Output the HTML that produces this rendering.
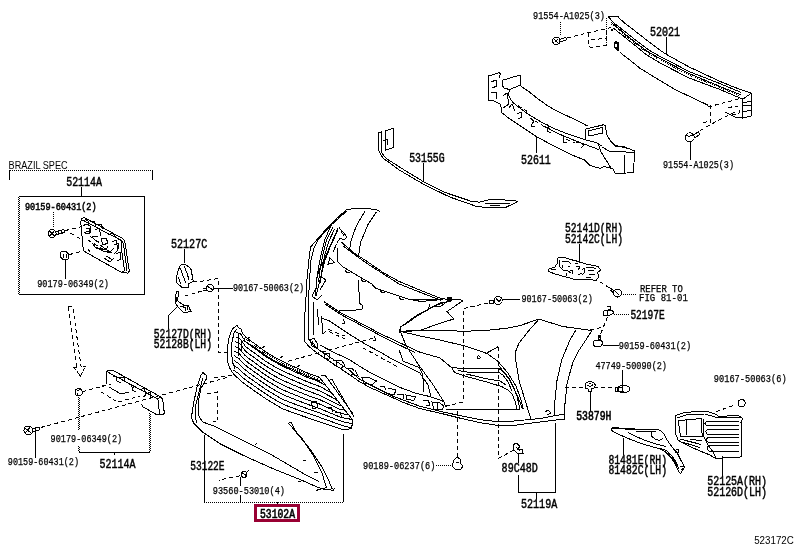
<!DOCTYPE html>
<html><head><meta charset="utf-8">
<style>
html,body{margin:0;padding:0;background:#fff;width:796px;height:549px;overflow:hidden}
svg{display:block;will-change:transform}
.t{font-family:"Liberation Mono",monospace;font-size:10.6px;fill:#000;stroke:#000;stroke-width:0.25}
.m{font-family:"Liberation Mono",monospace;font-size:12px;fill:#000;stroke:#000;stroke-width:0.45}
.b{stroke-width:0.65;font-size:13px}
.tb{stroke-width:0.55}
.s{font-family:"Liberation Sans",sans-serif;font-size:10px;fill:#000}
.l{fill:none;stroke:#000;stroke-width:1}
.d{fill:none;stroke:#000;stroke-width:1;stroke-dasharray:4 3}
.o{fill:none;stroke:#000;stroke-width:1;stroke-dasharray:1 1}
</style></head><body>
<svg width="796" height="549" viewBox="0 0 796 549">
<g shape-rendering="crispEdges">
<!-- 52611 absorber -->
<path class="l" d="M499.7,78.1 L500.2,73.7 L499.1,72.7 L488.7,75.9 L488.2,100 L493.1,100.5 L500.8,104.3 L501.4,112.3 L508.2,117.8 L520.5,126 L536.9,136.9 L554.6,146.4 L571,154.6 L584.7,160.1 L590.2,165.6 L600,168.3 L603.8,166.5 L612.7,168.7 L615.3,173.8 L633.7,172.5 L634.4,150.8 L622.9,146.4 L616.5,147 L610.2,140.6 L606.3,134.2 L605.7,126 L603.8,124.7 L585.9,129.1 L585.9,139.3"/>
<path class="l" d="M502.4,80.3 L518.8,75.4 L520.4,75.9 L520.4,85.2 L511.7,88.5 L509.5,89.6 L508.4,94.5"/>
<path class="l" d="M502.4,80.3 L502,85 L504,88 L509.5,89.6"/>
<path class="l" d="M520.4,85.8 L529.1,91.8 L538.2,99 L547.3,105.5 L556.4,110.8 L568.3,116.4 L580,122 L587.4,126"/>
<path class="l" d="M508.4,94.5 L510.9,100 L516,105 L527.3,113.7 L541,121.9 L554.6,128.7 L568.3,134.2 L584.7,139.6 L596,142.5 L602,146"/>
<path class="l" d="M588,131 L602,127.5 L603,133 L589,136 Z"/>
<path class="l" d="M598,143 L601,152 L606,160 L611,168"/>
<path class="l" d="M602,147 L609,151 L634.4,152.5"/>
<path class="l" d="M624.8,154.6 L624.8,172.5 M614,145 L630,149"/>
<path class="l" d="M543.7,126 L560,134.5 L576,141 L598.7,149.5"/>
<path class="l" d="M491,82 L496,80 L497,86 L492,88 M491,93 L496,92 L497,99 M503,96 L507,93 L509,104 L503,108"/>
<path class="l" d="M509,108 L512,104 L515,111 M517,114 L521,112 L522,117 L518,119 M530,118 L534,121 L531,126 L535,127 M546,124 L549,126 L547,131 L551,133 M560,134 L564,136 L563,142 L567,143 M576,142 L580,142 L584,145 L581,148"/>
<path class="d" d="M512,102 L528,112 M535,121 L545,127 M566,139 L575,143"/>
<path class="l" d="M536.4,137 L536.4,153.3"/>
<!-- 52021 bar -->
<path class="l" d="M608.6,17 L609,16.1 L617.6,16.1 L619.3,18.2 L624.6,23.1 L634.4,30.5 L645.9,39.5 L660,50.2 L666.2,54.3 L689.2,67 L720,81.4 L735,87.5 L751.2,93.2 L751.2,116 L742.9,118 L742.9,99.2 L751.2,93.2"/>
<path class="l" d="M608.6,17 L613.1,22.3 L624.6,31.3 L636.9,41.1 L649.2,50.2 L657.4,55 L672.8,63 L689,71.5 L720,83.6 L741.4,92.5"/>
<path class="l" d="M610.7,22.3 L616.4,26.4 L624.6,33.8 L636.9,43.6 L649.2,52.6 L660,58.5 L689,73.5 L720,86.5 L741.4,95"/>
<path class="o" d="M611.5,24 L617,28 L625,35.5 L637,45 L649.5,54 L660,60 L689,75 L720,87.5 L741.4,96.5"/>
<path class="l" d="M612.7,27.6 L624.6,37 L636.9,46.9 L645.9,54.3 L660,63 L689,78 L720,89.5 L742.9,99.2"/>
<path class="l" d="M619.7,51.8 L623,55 L629.4,59.7 L640,68.3 L660,80.5 L675,89.5 L708,105.2"/>
<path class="l" d="M725,112 L735,117 L742.9,118"/>
<path class="l" d="M742.9,103 L751.2,101 M742.9,105 L751.2,105 M742.9,112 L751.2,110"/>
<path class="o" d="M606.1,18 L606.1,43"/>
<path d="M613.6,42.4 L615.9,40.9 L618.9,42.4 L619.4,50.5 L617.4,51 L614.4,47.7 L613.6,45.4 Z" fill="#000"/>
<path d="M615,44 L617,43.5 L617,47 L615.5,46.5 Z" fill="#fff"/>
<rect x="611" y="28.5" width="2" height="2" fill="#000"/>
<!-- top bolt 91554 -->
<circle class="l" cx="556.3" cy="40.9" r="3.6"/>
<path class="l" d="M554,39 L558,43 M555,42 L558,39 M559.5,39.5 L566,37.5 M559.5,42 L566,40 L566,37.5"/>
<path class="o" d="M560.8,22 L560.8,35.5"/>
<path class="d" d="M567,38 L588.7,32.6 L611.3,27.5"/>
<path class="d" d="M588.7,32.6 L588.7,46 L591,47.5 L606.8,45.5 M606.8,30 L606.8,45.5 M591,40 L606.8,38"/>
<!-- right bolt 91554 -->
<circle class="l" cx="689.7" cy="137.3" r="4.5"/>
<path class="l" d="M685.5,135 Q690,138 694,134 M694,135 L698.5,131.5 M695,138 L699.5,134.5 L698.5,131.5"/>
<path class="l" d="M690.3,142 L690.3,160"/>
<path class="d" d="M700,130.5 L717,121 L735,112"/>
<path class="d" d="M710.4,105.2 L710.4,124 M703,122.7 L710,121 M708,107 L742,98"/>
<path class="d" d="M728,108 L735,106 Q742,107 739,113 L732,115"/>
<path class="l" d="M666.2,36.6 L666.2,55"/>
<!-- Brazil box -->
<path class="o" d="M9.5,170.5 L152.5,170.5"/>
<path class="l" d="M9.5,170 L9.5,180 M152.5,170 L152.5,180"/>
<path class="l" d="M81.5,186.5 L81.5,196.5 M19,196.5 L144.5,196.5 L144.5,294.5 L19,294.5"/>
<path class="o" d="M18.5,197 L18.5,294"/><path class="o" d="M19.5,198 L19.5,294"/>
<!-- bracket -->
<path class="l" d="M81.5,218.3 L84.6,217.7 L122.9,238.7 L124.8,241.3 L129.3,271.2 L128,273.1 L121.6,272.5 L83.4,250.8 L80.8,222.8 Z"/>
<path class="l" d="M81.5,219.6 L121.6,240.6 L123.5,244 L127,271"/>
<path class="l" d="M121.6,240.6 L121,246 L124.5,270.5 L121.6,272.5"/>
<path class="l" d="M83,226 L86,224 L90,226 L90,232 L86,231 M95,230 L99,228 L101,236 M92,237 L98,236 M92,243 L96,248 L106,250 L108,246 M100,245 L110,252 L114,248 M112,242 L116,240 L118,250 L114,254 M108,235 L113,233 L116,237 M104,258 L110,262 L114,258 M93,238 L97,242"/>
<path class="d" d="M84,232 L100,243 M88,240 L112,255"/>
<path class="l" d="M83,221 L86,219.5 L89,222 L88,226 M90,222 L94,221 L96,226 M98,225 L101,224 L103,229 M86,229 L89,228 L90,233 L87,234 M101,239 L106,238 L108,243 L103,245 Z M96,247 L103,251 L112,253 M114,245 L118,243 L119,249 M116,254 L120,252 L121,259 L117,261 M106,256 L113,260 M88,249 L90,252"/>
<!-- bolt -->
<circle class="l" cx="52.1" cy="233.6" r="4"/>
<path class="l" d="M49.5,231 L54.5,236 M49.5,236 L54,231.5 M56,231.5 L64.2,229.5 M56,235 L64.2,232.5 L64.2,229.5 M58,231 L58,234 M61,230 L61,233.5"/>
<path class="o" d="M53.7,212 L53.7,228"/>
<path class="d" d="M65.5,230.5 L82,226.6 M70.6,233 L83.4,240.6"/>
<!-- nut -->
<path class="l" d="M61,252 L66,251.5 L68.7,254 L68.5,259 L63,259.7 L60.4,257 Z M63,254 L63,258 M66,253.5 L66,258"/>
<path class="l" d="M65.5,259.7 L65.5,279"/>
<path class="d" d="M69.3,254.6 L83.4,250.8"/>
<!-- bumper cover 52119A -->
<path class="l" d="M346.7,209.5 Q362,207 378.8,210.2 L379.5,212.4"/>
<path class="l" d="M346.7,209.5 L331.4,223.3 L318,238.5 L311,246.6 L309.6,252.5 L308,269.2 L306.6,283.7 L305.8,301.2 L304.4,320 L304.4,341 L308.8,346.4 L316.4,352.5 L327.4,360 L338.3,367 L349.2,374.5 L360,382 L370,387.5 L381.9,392.8 L403.7,402.6 L420,408.6 L440.2,413.2 L460.3,418.2 L480,422.7 L498.5,425.5 L514.3,425.3 L540,422 L564.3,419"/>
<path class="l" d="M346.7,211 L331.4,224.8 L318.3,239.4 L314,248 L311,260 L309.5,280 L308.5,300 L308.5,320 L308.5,339 L313,345 L319,350 L332.8,359 L349.2,370 L360,379.5 L370,384.7 L392.8,396.1 L420,406.3 L444.2,412.2 L460.3,415.7 L480,419.7 L496.7,421.5 L514.3,421 L540,418.5 L564.3,414"/>
<path class="l" d="M365,211 L356.2,226.2 L351,240.8 L349.7,248.8"/>
<path class="l" d="M376.6,211.7 L367.9,224.8 L360.6,242.3 L358.4,256.9"/>
<!-- left fins -->
<path class="l" d="M331.4,224.8 L324.8,239.6 L320.7,256 L318.3,269.1 L316.5,280 L315.5,296"/>
<path class="l" d="M332.8,227 L326.5,240.5 L322.5,256 L320,270 L318.5,282"/>
<path class="l" d="M334.5,229 L328.5,242 L324.5,256 L322,270 L320.5,283"/>
<path class="l" d="M338,229.8 L329.8,247.8 L324.8,260.9 L321.6,274 L318.3,287.1 L316,296"/>
<path class="l" d="M329.8,257.6 L334.7,262.5 L328.1,264.2 Z"/>
<path class="l" d="M339,227.7 L344,233 L347,237 L344,240 L340,238 L337,243 M341,231 L344,236"/>
<path class="l" d="M336.4,244.4 L333,252 M321.6,277.3 L326,280 L320,290 M317,287 L312,296 L317,300 L322,295"/>
<!-- upper bar -->
<path class="l" d="M341.6,242.3 L353.3,252.5 L367.9,262 L383,272.5 L399.2,281.5 L428.3,293.5 L441.4,298.6 L449,299.4"/>
<path class="l" d="M343,245.8 L355,255 L370,265.5 L385,275 L399.2,284 L428.3,295.5 L441,300.2"/>
<path class="l" d="M337.3,248.1 L337.3,261.2 L343.1,267 L357.7,275.8 L371.5,283.7 L375.8,288.4 L391.9,293.5 L406.4,298.6 L421,301.5 L442.9,299.4"/>
<path class="l" d="M345,270 L347,273 L350,272 M361,279 L363,282 L366,281 M380,290 L382,293 L385,292 M399,297 L401,300 L404,299"/>
<path class="l" d="M338,228.4 L331,244 L323,262 L319,270.7 L317,278"/>
<path class="l" d="M409.4,299.4 L442.9,299.4"/>
<path class="l" d="M358.5,280 L359.5,303 L362.3,305.5 L362,309.3 L357.2,309.3 L356,310 L339.3,310.6"/>
<circle cx="449.4" cy="299.4" r="2.8" fill="#000"/>
<path class="l" d="M449,299.4 L463.3,300.1"/>
<!-- V shape -->
<path class="l" d="M463.3,300.5 L447,311.5 L453.8,319 L440,323.3 L421,330 L400.6,331.4"/>
<path class="l" d="M441.4,302.3 L416.6,315.4 L400.6,327 L399.2,333"/>
<path class="l" d="M429.8,303.7 L428.3,309.6 L418.1,315.4 L403.5,325.6"/>
<path class="l" d="M434,306 L441,302.5 L446.5,302 L440.5,306.5 Z M436,305.5 L443,303"/>
<path class="l" d="M400.6,331.4 L440,330 L461.9,331.3 L483.7,330.6 L505.6,328.4 L520.2,325.5 L539.1,319 L562,326.4 L592,330.5"/>
<path class="l" d="M399.8,330 L406.4,346.4 L419.5,366.1 L432.6,384.1 L444.1,402.1 L445.7,407"/>
<path class="l" d="M400.6,331.4 L420,336 L440,340 L465,346 L486.4,353.1 L497.9,361.3 L507.7,372.8 L515.9,385.9 L520.8,399 L523.3,408.9"/>
<path class="l" d="M497.9,364.6 L509.3,379.3 L517.5,395.7 L522.5,408.9"/>
<path class="l" d="M539.1,319 L527.5,332.1 L518.7,343.7 L515.8,351 L515.1,356.4 L519.2,381 L525.7,402.3 L530.7,418.7"/>
<path class="l" d="M575.7,330.5 L570,340 L561.8,359.7 L556.9,381 L554.4,405.6 L554.4,415.4"/>
<path class="l" d="M592,330.5 L584,342.8 L577.8,352.1 L573,362 L567.1,382.9 L564.7,406.6 L564.7,419.5"/>
<!-- fog slot -->
<path class="l" d="M452.3,367.6 L466.3,368.9 L499.5,368.9 L504,372 L509.7,379 L514,388 L517.3,397 L519.9,409.7"/>
<path class="l" d="M452.3,367.6 L452.3,368.9 L454.8,372.7 L466.3,376.5 L485,381.5 L502,386.7 L508,390 L512.2,394.4 L515,401 L517.3,409.7"/>
<path class="l" d="M458,370.5 L467,372 L498,372 L503,375 L508,382 L512,391"/>
<path class="l" d="M466.3,374 L485,378.5 L500,381 L506,385"/>
<path class="l" d="M445.9,409.7 L519.9,409.7"/>
<path class="l" d="M485.2,353.9 L498.3,346.6"/>
<circle class="l" cx="478.6" cy="357.4" r="1.5"/>
<path class="l" d="M545,412 L548,410 L551,413 L547,415"/>
<!-- middle band -->
<path class="l" d="M324,301.7 L339.3,311.9 L361,323.4 L380.2,333.6 L399.3,342.5 L419.5,352 L440,358 L452,368"/>
<path class="l" d="M325.3,304.2 L340.6,314.4 L361,325.3 L381.4,336.1 L399.3,345 L415,352.5"/>
<path class="l" d="M321.5,318.3 L329.1,320.8 L348.3,333.6 L365,344 L380,352 L390,357.9 L406.4,366.1 L419.5,372.6 L428,385 L431,397"/>
<path class="l" d="M399,349.7 L403.1,361.1 L419.5,367.7 L422.8,374.3 L423.6,392.3"/>
<path class="l" d="M320,345 L333.9,352.4 L349.2,359.5 L360,366.5 L370,372.5 L381.9,378.6 L398.3,386.8 L415,393 L430,396.6 L444.2,401.6"/>
<path class="l" d="M321.5,315.7 L322.8,333.6 M317.7,309.3 L318.3,324.6 M313,300 L313.5,335"/>
<path class="l" d="M343.2,319 L345,323 L342,324 M373.8,336 L376,340 L373,341"/>
<!-- bottom slots -->
<path class="l" d="M310,340 L314,338 L318,345 L317,348 L312,346 Z M312,341 L315,346"/>
<path class="l" d="M324,354 L329.5,353.5 L329,359.5 L324.5,358 Z M332.8,360.6 L342,361 L344.9,365 L341,368.3 L334,365 M336,361 L336,366 M347,368.3 L352,368 L354,371 M355,370 L358,376 L351,374 M362,377.5 L370,378 L376.4,381 L372,385 L364,383 Z M379.7,386.8 L384,386 L386,390 M388,388 L396,390 L394,395 L386,393 M397,394 L404,395 L403,399 M406,395 L415.7,397 L414,400.4 L407,399.5 Z M423,401 L428,400 L430,405 L426,406 M432,402 L440,403 L444,406 L442,410 L434,409 Z M437,402 L437,409"/>
<!-- dashed -->
<path class="d" d="M322.8,333.6 L329.1,329.7 L348.3,337.4 M362.7,347.7 L400,368.1 M329.2,331.7 L348.1,340.4"/>
<path class="d" d="M488.1,302.9 L463.3,308.7 L463.3,402.1 L445.7,406.2"/>
<path class="d" d="M498.3,346.6 L498.3,430"/>
<path class="d" d="M457.6,411 L457.6,458.4"/>
<path class="d" d="M498.5,430 L498.5,458.4 L516.5,448.6"/>
<path class="d" d="M564.7,387.7 L585,387.7 M594,387.7 L614.5,387.7"/>
<!-- 52127C clip -->
<path class="l" d="M184.3,248.5 L184.3,263"/>
<path class="l" d="M182,264 L180,266 L178,271 L176.5,277 L177,283 L182,287.5 L189,287.5 L188.5,284 L194,281 L192,279.5 L193,276 L191.5,274 L192,270.5 L189,267 L186,265 Z"/>
<path class="l" d="M180.5,268 L183,276 L186,283 M184,266 L187,273 L189,280 M178,277 L181,284"/>
<path class="d" d="M193,282 L200,281.5 L218,278.5 L218,352 L228,352"/>
<!-- screw 90167 -->
<circle class="l" cx="210" cy="288" r="3.5"/>
<path class="l" d="M207,286 L213,290 M213.5,288 L233,288 M203,289 L206.5,288.5 M203,291 L206.5,290"/>
<path class="d" d="M202,291 L185,296"/>
<!-- 52127D clip -->
<path class="l" d="M176.8,291.7 L178.5,291.5 L179,295 L177.5,298 L178,301 L182.8,304.7 L188.7,305.9 L190.4,310.6 L188,312 L183.9,313 L178,307 L175.5,303 L175.3,296 Z"/>
<path class="l" d="M177,297 L176.5,302 M180,306 L186,308 L185,311 M183,304 L183,308 M187,306 L187,310 M190,311 L192,311"/>
<path class="l" d="M176.7,307 L168,316.4 L168,329.4"/>
<!-- fog cover 81481E -->
<path class="l" d="M611.6,428.7 L657.5,429.3 L660.7,430.9 L664,434.2 L666.2,438.6 L670.6,445.1 L675,450.6 L677.1,452.8 L681.5,461.5 L684.8,467 L680.4,473.6 L679.3,472.5 L675,463.7 L670.6,457.2 L666.2,452.8 L661.8,449.5 L654.2,447.3 L641.1,443.5 L626.9,438 L615.9,433.1 L611.6,430.4 Z"/>
<path class="l" d="M611.5,427.5 L619,427.5"/>
<path class="l" d="M624.7,429.8 L656.4,429.8 M635.6,431.5 L656.4,431.5"/>
<path class="l" d="M628,432.6 L633.4,435.3 L643.3,439.7 L656.4,444 L662.9,445.7 L666,447"/>
<path class="l" d="M652,432 Q651,437 653.1,437.5 Q656,440.5 659.6,440.2 L662.9,438.6"/>
<circle class="l" cx="677.1" cy="451.3" r="1.8"/>
<path class="l" d="M660,448 L667,451 L672,456 L676,462 L679,469 M662,450 L668,453.5 L673,459 L677,466 M680.5,467 L684,466 M681,470 L684.5,467.5"/>
<path class="l" d="M623.5,437.5 L623.5,455"/>
<!-- bracket 52125A -->
<path class="l" d="M675.7,415.4 L685.6,412.3 L706.3,411.2 L715.6,414.3 L718.8,416.4 L738.5,415.4 L742.6,418.5 L741,422.6 L741.6,456.9 L715.6,458.4 L709.4,454.8 L699,450.6 L685.6,444.4 L678.3,440.3 L675.7,434 Z"/>
<path class="l" d="M678.3,420.6 L701.1,418.5 L702.2,436.1 L680.4,436.1 Z M686.6,419.5 L686.6,435 M703,419 L704,437 L708,445 L713,452 L716,458"/>
<path class="l" d="M677,418 L688,414.5 L705,414 L715,417 L740,418"/>
<path class="l" d="M739,421.5 L706.5,421.5 Q703.5,423.5 706.5,425.5 L739,425.5 M739,429.5 L707.3,429.5 Q704.3,431.8 707.3,434.0 L739,434.0 M739,437.5 L708.1,437.5 Q705.1,439.8 708.1,442.0 L739,442.0 M739,445.5 L708.9,445.5 Q705.9,448.2 708.9,451.0 L739,451.0 "/>
<path class="l" d="M680.4,439.2 L701,444.4 M682,442 L700,447.5 M690,439 L702,441"/>
<path class="l" d="M722.2,456.1 L722.2,477"/>
<!-- screw 90167-50063(6) -->
<circle class="l" cx="741.6" cy="403.2" r="3.6"/>
<path class="l" d="M739,421.5 L706.5,421.5 Q703.5,423.5 706.5,425.5 L739,425.5 M739,429.5 L707.3,429.5 Q704.3,431.8 707.3,434.0 L739,434.0 M739,437.5 L708.1,437.5 Q705.1,439.8 708.1,442.0 L739,442.0 M739,445.5 L708.9,445.5 Q705.9,448.2 708.9,451.0 L739,451.0 "/>
<path class="d" d="M733,405.6 L715.7,411.8"/>
<!-- clip 89C48D -->
<path class="l" d="M513,445 L516,443 L520,446 L518,449 L522,449 L523,453 L517,453 L514,450 Z M516,447 L520,451"/>
<path class="l" d="M518,453.5 L518,463.3 M518,474.8 L518,492.7 L555.7,492.7 L555.7,422.5 M536,492.7 L536,499.3"/>
<!-- clip 90189 -->
<path class="l" d="M454,460 L457,457 L460,459 L461,464 L463,466 L461,469 L455,469 L452,466 Z M456,462 L459,462"/>
<path class="o" d="M436.4,465.6 L452.7,465.6"/>
<!-- grille 53102A -->
<path class="l" d="M235.7,331.9 L240.7,334.1 L245.7,341.8 L250.7,345.6 L255.7,349.2 L260.7,352.9 L265.7,356.6 L270.7,359.6 L275.7,362.5 L280.7,365.1 L285.7,367.6 L290.7,369.9 L295.7,372.2 L300.7,374.4 L305.7,376.7 L310.7,378.6 L315.7,380.4 L320.7,382.5 L325.7,385.4 L328.3,388.4 M235.4,336.8 L240.4,339.1 L245.4,346.3 L250.4,350.1 L255.4,353.7 L260.4,357.4 L265.4,361.1 L270.4,364.1 L275.4,367.1 L280.4,369.7 L285.4,372.2 L290.4,374.4 L295.4,376.6 L300.4,378.8 L305.4,381.0 L310.4,383.0 L315.4,384.8 L320.4,386.7 L325.4,389.5 L330.4,392.3 L333.5,395.1 M235.1,341.6 L240.1,344.1 L245.1,350.8 L250.1,354.7 L255.1,358.2 L260.1,361.9 L265.1,365.5 L270.1,368.6 L275.1,371.6 L280.1,374.3 L285.1,376.7 L290.1,379.0 L295.1,381.1 L300.1,383.3 L305.1,385.4 L310.1,387.3 L315.1,389.1 L320.1,391.0 L325.1,393.7 L330.1,396.3 L335.1,399.0 L338.5,401.6 M234.8,346.4 L239.8,349.1 L244.8,355.2 L249.8,359.2 L254.8,362.7 L259.8,366.4 L264.8,370.0 L269.8,373.1 L274.8,376.1 L279.8,378.9 L284.8,381.3 L289.8,383.5 L294.8,385.6 L299.8,387.7 L304.8,389.8 L309.8,391.7 L314.8,393.5 L319.8,395.3 L324.8,397.8 L329.8,400.3 L334.8,402.8 L339.8,405.3 L342.0,406.1 M234.5,351.1 L239.5,354.0 L244.5,359.7 L249.5,363.7 L254.5,367.2 L259.5,370.8 L264.5,374.4 L269.5,377.6 L274.5,380.6 L279.5,383.4 L284.5,385.9 L289.5,388.0 L294.5,390.1 L299.5,392.1 L304.5,394.2 L309.5,396.1 L314.5,397.8 L319.5,399.6 L324.5,401.9 L329.5,404.3 L334.5,406.7 L339.5,409.1 L344.5,410.1 L345.5,410.7 M234.2,355.7 L239.2,358.9 L244.2,364.3 L249.2,368.2 L254.2,371.7 L259.2,375.3 L264.2,378.9 L269.2,382.1 L274.2,385.1 L279.2,388.0 L284.2,390.5 L289.2,392.6 L294.2,394.6 L299.2,396.6 L304.2,398.6 L309.2,400.4 L314.2,402.2 L319.2,403.9 L324.2,406.1 L329.2,408.3 L334.2,410.6 L339.2,412.8 L344.2,414.0 L348.7,414.8 M233.9,360.4 L238.9,363.8 L243.9,368.8 L248.9,372.7 L253.9,376.3 L258.9,379.8 L263.9,383.4 L268.9,386.6 L273.9,389.6 L278.9,392.5 L283.9,395.1 L288.9,397.1 L293.9,399.1 L298.9,401.0 L303.9,402.9 L308.9,404.8 L313.9,406.5 L318.9,408.2 L323.9,410.3 L328.9,412.4 L333.9,414.5 L338.9,416.6 L343.9,418.0 L348.9,418.8 L351.5,419.7 M233.6,365.2 L238.6,368.6 L243.6,373.4 L248.6,377.3 L253.6,380.8 L258.6,384.3 L263.6,387.9 L268.6,391.1 L273.6,394.1 L278.6,397.1 L283.6,399.7 L288.6,401.7 L293.6,403.7 L298.6,405.5 L303.6,407.3 L308.6,409.2 L313.6,410.9 L318.6,412.6 L323.6,414.5 L328.6,416.4 L333.6,418.4 L338.6,420.3 L343.6,421.9 L348.6,422.9 L351.5,423.9 M233.3,369.9 L238.3,373.4 L243.3,378.0 L248.3,381.8 L253.3,385.3 L258.3,388.8 L263.3,392.3 L268.3,395.6 L273.3,398.6 L278.3,401.6 L283.3,404.3 L288.3,406.3 L293.3,408.2 L298.3,410.0 L303.3,411.8 L308.3,413.5 L313.3,415.2 L318.3,416.9 L323.3,418.7 L328.3,420.5 L333.3,422.3 L338.3,424.1 L343.3,425.8 L348.3,427.0 L351.5,428.1"/>
<path class="l" d="M234.6,326.6 L231.7,330.2 L228.7,339 L227.3,349.2 L227.5,361.6 L229.7,368.1 L234,374.7 L243.9,383.4 L254.8,391.1 L265.7,398.7 L276.6,405.3 L282,408.6 L293.8,413 L309.2,418.3 L331,425.6 L344.1,430 L351.4,428.5 L352.9,421.2 L351.4,418.3"/>
<path class="l" d="M234.6,326.6 L237,325.5 L239,328 L241,329.1 L242.5,333.1 L245.4,336.8 L249,339.7 L254.2,343.3 L260,347.7 L265.8,352 L275,357.5 L286.1,363.1 L307.2,372.9 L319.4,377.3 L351.4,418.3"/>
<path class="l" d="M243.2,340.4 L254.2,347 L265.8,355.5 L275,361 L286.1,366.5 L307.2,376 L320,381"/>
<path class="o" d="M242.5,337 L254.2,345 L265.8,353.8 L275,359.3 L286.1,364.8 L307.2,374.5 L319.5,379.3"/>
<path class="l" d="M237,329 L234,333 L232,342 L231.5,352 L232.5,362 L235,369 M239,334 L238,343 L238,356 M241,340 L241,352"/>
<path class="l" d="M321,376 L325,375 L353,414 M328.1,380.4 L332,379.5 L354,417"/>
<path class="l" d="M311,403 L316,401 L318,407 L313,409 Z M326,408 L331,407 L333,412 M335,413 L340,412 L342,418"/>
<path class="l" d="M247,339 L250,337 M262,348 L265,346 M280,358 L283,356 M297,367 L300,365"/>
<!-- arrow -->
<path class="d" d="M68,306.6 L73,306.6 L73,309 L81.1,366.4 M68,307.4 L76.7,367.2" stroke-dasharray="4 1.5"/>
<path class="l" d="M76.7,367.2 L73.8,367.2 L80.3,376.2 L85.2,366.4 L81.1,366.4" stroke-dasharray="3 1"/>
<!-- lower 52114A bracket -->
<path class="l" d="M106.1,384 L106.1,371.2 L109.2,370.2 L112.8,370.2 L161.2,397.2 L162.8,399.8 L164.3,413 L163.3,414.6 L156.6,414.6 L142.9,406.9 L141.3,403.8"/>
<path class="l" d="M107.1,371.7 L157.1,398.7 L158.7,400.8 L159.2,414 M157.1,398.7 L161.2,397.2"/>
<path class="l" d="M109.2,387 L113.3,389.6 L120.4,393.6 L128.6,392.6"/>
<path class="l" d="M113,377 L116,376 L117,381 L121,383 M119,378 L124,377 L125,382 M129,384 L134,386 L132,390 L136,392 M140,390 L144,388 L146,395 L143,397 M147,394 L150,392 L151,398 M131,385 L133,389"/>
<path class="d" d="M102,386 L111,384 M101,392 L116,401 M118,402 L140,396"/>
<circle class="l" cx="78.6" cy="392.3" r="3.6"/>
<path class="l" d="M76,389 L78,391 L81,388 M77,393 L77,396"/>
<path class="d" d="M82,391.7 L107,385.1"/>
<path class="o" d="M78.1,397 L78.1,430 M78.1,446 L78.1,452 M149.1,412.5 L149.1,452"/><path class="o" d="M79.1,398 L79.1,430 M79.1,447 L79.1,452 M150.1,413.5 L150.1,452"/>
<path class="l" d="M78.6,452.4 L149.6,452.4 M113.6,452.4 L115,455"/>
<path class="d" d="M40.7,427.5 L228,377.3 M288,361.2 L374,338"/>
<!-- bolt 90159 lower -->
<circle class="l" cx="28.3" cy="430.4" r="4.4"/>
<path class="l" d="M25,428 L31,433 M25,433 L30,427.5 M32.5,428.5 L39,427 M32.5,432 L39,430 L39,427 M35,428 L35,431"/>
<path class="l" d="M35.6,431 L35.6,457.5"/>
<!-- 53122E lower molding -->
<path class="l" d="M201,375.2 L196.7,388.3 L193.7,402.9 L191.4,417.5 L193.7,423.3 L202.5,432 L220,443.7 L243.3,455.4 L272.5,468.5 L301.6,480.2 L316,486.5 L322,488.9 L333.7,490.4 L334.3,488.4"/>
<path class="l" d="M201,375.2 L203,372.5 L206,375.2 L206.9,378.1 L201,388.3 L198.1,402.9 L198.1,414.6 L202.5,421.9 L214.2,426.2 L237.5,437.9 L272.5,455.4 L307.4,475.8 L319.1,481.6"/>
<path class="l" d="M203,378 L199.5,390 L196,404 L195,417 L197,423"/>
<path class="l" d="M288.5,423.3 L291,422 L295.8,432 L310.4,449.5 L322,467 L327.9,478.7 L332.2,488.9"/>
<path class="l" d="M288.5,423.3 L301.6,437.9 L313.3,455.4 L322,472.9 L326.4,487.5 L316.2,490.4"/>
<path class="l" d="M213,422 L216,421 M255,445 L257,443 M303,460 L306,461 M314,473 L318,472 M298,482 L301,481"/>
<!-- dashed links -->
<path class="d" d="M214,378 L231.6,375.2"/>
<path class="d" d="M207,394 L217,392 L217,420"/>
<!-- clip 93560 -->
<circle class="l" cx="244" cy="474.3" r="3"/>
<path class="l" d="M241,472 L247,476 M247,472 L249,470"/>
<path class="d" d="M240,475.8 L218.5,480.2"/>
<path class="l" d="M240.4,477 L240.4,486 M240.4,495 L240.4,502"/>
<!-- bracket lines -->
<path class="l" d="M204,435 L204,502 M343.9,433.5 L343.9,502"/>
<path class="o" d="M204,502.5 L343.9,502.5"/>
<path class="l" d="M277,502 L277,505"/>
<!-- 52141D bracket -->
<path class="l" d="M579.9,243.5 L579.9,262.7"/>
<path class="l" d="M557.8,258 L563.1,257.3 L573.6,260.3 L579.7,261.8 L587.2,264.4 L597.8,266.3 L600.8,270.1 L597.8,272.3 L598.5,276.9 L596.2,280.6 L587.2,279.1 L573.6,279.1 L560.1,275.4 L554.8,273.9 L548.8,271.6 L548.4,269.3 L554.8,267.1 L557.4,263.3 Z"/>
<path class="l" d="M559,259.5 L559,264 L560,267 L563,270 L568,271 L571,273 M551,270 L556,269.5 M562,262 L566,261 L569,262 L571,264 M563,265 L562,268 M568,267 L570,266 M566,273 L567,276 M570,270 L573,270 L572,274 M576,266 L580,267 L578,270 M582,270 L584,268 L585,272 L582,275 M578,275 L582,273 M586,267 L592,267 L596,269 M588,270 L594,271 M589,274 L595,275 M586,277 L591,278 M575,263 L578,264"/>
<path class="d" d="M600,281.9 L608.9,287.6"/>
<circle class="l" cx="617.5" cy="293" r="4"/>
<path class="l" d="M609,287.5 L614,290.5 M610,290 L614,293 M615,291 L619,295"/>
<path class="o" d="M622.9,294 L637,294"/>
<!-- screw 90167 near bumper -->
<circle class="l" cx="498.2" cy="300.4" r="4"/>
<path class="l" d="M496,298 L499,302 L501,299 M489.1,300.5 L493.2,300.1 L493.2,303.5 L489.1,303.5 Z"/>
<path class="l" d="M502.6,299.4 L519.6,299.4"/>
<!-- clip 52197E -->
<path class="l" d="M607,307 L610,306 L611,309 L608,310 M604,311 L612,310 L614,313 L608,316 L603,315 Z M607,310 L607,316"/>
<path class="o" d="M614,314.4 L629.3,314.4"/>
<path class="d" d="M607.5,317 L603.8,326 L599.1,337.9"/>
<!-- screw 90159 right -->
<path class="l" d="M598,336 L600,335 L601,339 L599,340 Z M594,341 L601,340 L603,343 L601,346 L595,347 L593,344 Z"/>
<path class="l" d="M602.7,345 L619.2,345"/>
<!-- grommet 47749 -->
<path class="l" d="M622.8,369.5 L622.8,386.5"/>
<ellipse class="l" cx="623.5" cy="389" rx="6.5" ry="3.5"/>
<path class="l" d="M615,387 L622,387 L623,391 L615,391 Z M618,387 L619,391"/>
<!-- clip 53879H -->
<path class="l" d="M585,385 L586.5,382.5 L590,381.5 L593.5,382.5 L595.5,385 L594,388 L591.5,389 L592,391.5 L589,392 L588,389 L585.5,388 Z M587.5,385 L590,387 L593,384.5 M589,384 L591,383.5"/>
<path class="l" d="M590.3,392 L590.3,411.4"/>
<path class="d" d="M590,330 L604,327"/>
<!-- 53155G strip -->
<path class="l" d="M381.4,152 L384,156 L387.8,159.5 L402.7,169 L424,182 L445.4,192.6 L471,201.2 L479.6,202.2 L488,200 L500,199.5 L518,201.2"/>
<path class="l" d="M380.3,154.2 L383.5,158.4 L398.4,169.5 L424,184.5 L449.7,197 L475.3,206 L486,207.6 L505.2,207.6 L518,201.6"/>
<path class="l" d="M485,204 L495,203 L510,203.5 M490,206 L500,205"/>
<path class="l" d="M378,133 L381.4,131.7 L381.4,152 M378,133 L378,148 L380.3,154.2 M385.6,130.7 L393,128.5 L393,147.8 L385.6,150 Z M383,141 L387,139 L388,145"/>
<path class="l" d="M423.4,162.5 L423.4,182"/>

</g>
<text class="t" x="533.00" y="19.0" textLength="72.00" lengthAdjust="spacingAndGlyphs">91554-A1025(3)</text>
<text class="m" x="650.00" y="36.0" textLength="30.00" lengthAdjust="spacingAndGlyphs">52021</text>
<text class="m" x="521.00" y="164.0" textLength="29.80" lengthAdjust="spacingAndGlyphs">52611</text>
<text class="t" x="663.00" y="167.9" textLength="71.00" lengthAdjust="spacingAndGlyphs">91554-A1025(3)</text>
<text class="m" x="409.20" y="162.0" textLength="35.40" lengthAdjust="spacingAndGlyphs">53155G</text>
<text class="m" x="66.20" y="186.0" textLength="35.80" lengthAdjust="spacingAndGlyphs">52114A</text>
<text class="t tb" x="25.00" y="210.0" textLength="71.60" lengthAdjust="spacingAndGlyphs">90159-60431(2)</text>
<text class="t" x="37.20" y="287.0" textLength="71.80" lengthAdjust="spacingAndGlyphs">90179-06349(2)</text>
<text class="m" x="171.00" y="247.8" textLength="36.20" lengthAdjust="spacingAndGlyphs">52127C</text>
<text class="t" x="233.00" y="291.0" textLength="71.20" lengthAdjust="spacingAndGlyphs">90167-50063(2)</text>
<text class="m" x="153.80" y="337.7" textLength="58.20" lengthAdjust="spacingAndGlyphs">52127D(RH)</text>
<text class="m" x="153.80" y="347.7" textLength="58.20" lengthAdjust="spacingAndGlyphs">52128B(LH)</text>
<text class="m" x="565.00" y="232.3" textLength="58.00" lengthAdjust="spacingAndGlyphs">52141D(RH)</text>
<text class="m" x="565.00" y="242.7" textLength="58.00" lengthAdjust="spacingAndGlyphs">52142C(LH)</text>
<text class="t" x="640.00" y="291.6" textLength="42.80" lengthAdjust="spacingAndGlyphs">REFER TO</text>
<text class="t" x="639.00" y="301.2" textLength="48.80" lengthAdjust="spacingAndGlyphs">FIG 81-01</text>
<text class="t" x="521.40" y="302.2" textLength="71.40" lengthAdjust="spacingAndGlyphs">90167-50063(2)</text>
<text class="m" x="630.40" y="319.0" textLength="34.40" lengthAdjust="spacingAndGlyphs">52197E</text>
<text class="t" x="618.80" y="349.0" textLength="72.40" lengthAdjust="spacingAndGlyphs">90159-60431(2)</text>
<text class="t" x="595.40" y="368.7" textLength="71.60" lengthAdjust="spacingAndGlyphs">47749-50090(2)</text>
<text class="m b" x="576.20" y="420.0" textLength="35.20" lengthAdjust="spacingAndGlyphs">53879H</text>
<text class="t" x="713.80" y="381.6" textLength="72.80" lengthAdjust="spacingAndGlyphs">90167-50063(6)</text>
<text class="m" x="608.40" y="464.0" textLength="58.60" lengthAdjust="spacingAndGlyphs">81481E(RH)</text>
<text class="m" x="608.40" y="473.8" textLength="58.60" lengthAdjust="spacingAndGlyphs">81482C(LH)</text>
<text class="m" x="707.20" y="485.2" textLength="59.80" lengthAdjust="spacingAndGlyphs">52125A(RH)</text>
<text class="m" x="707.20" y="496.0" textLength="59.80" lengthAdjust="spacingAndGlyphs">52126D(LH)</text>
<text class="t" x="50.60" y="442.3" textLength="71.60" lengthAdjust="spacingAndGlyphs">90179-06349(2)</text>
<text class="m" x="99.60" y="468.2" textLength="36.00" lengthAdjust="spacingAndGlyphs">52114A</text>
<text class="t" x="7.80" y="464.8" textLength="71.20" lengthAdjust="spacingAndGlyphs">90159-60431(2)</text>
<text class="m" x="190.20" y="470.0" textLength="34.40" lengthAdjust="spacingAndGlyphs">53122E</text>
<text class="t" x="212.80" y="493.9" textLength="72.20" lengthAdjust="spacingAndGlyphs">93560-53010(4)</text>
<text class="m b" x="260.00" y="517.9" textLength="35.00" lengthAdjust="spacingAndGlyphs">53102A</text>
<text class="t" x="363.00" y="468.9" textLength="72.40" lengthAdjust="spacingAndGlyphs">90189-06237(6)</text>
<text class="m" x="501.60" y="472.2" textLength="36.20" lengthAdjust="spacingAndGlyphs">89C48D</text>
<text class="m" x="521.00" y="508.4" textLength="36.20" lengthAdjust="spacingAndGlyphs">52119A</text>
<text class="s" x="8.6" y="168.6" textLength="59" lengthAdjust="spacingAndGlyphs">BRAZIL SPEC</text>
<text class="s" x="754.2" y="544.2" textLength="39.6" lengthAdjust="spacingAndGlyphs">523172C</text>
<rect x="255.5" y="505.5" width="43" height="15" fill="none" stroke="#990033" stroke-width="3" shape-rendering="crispEdges"/>
</svg>
</body></html>
